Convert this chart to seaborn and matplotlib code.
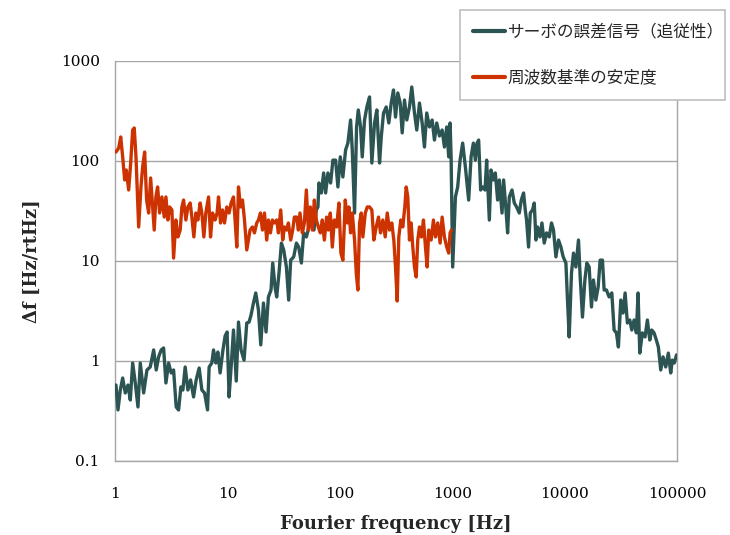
import matplotlib
matplotlib.use("Agg")
import matplotlib.pyplot as plt
import seaborn as sns
import pandas as pd

# ---- data ----
servo_label = "サーボの誤差信号（追従性）"
ref_label = "周波数基準の安定度"

servo_freq = [1.02, 1.063, 1.115, 1.170, 1.234, 1.305, 1.368, 1.436, 1.515, 1.601, 1.678, 1.798, 1.924, 2.058,
              2.207, 2.327, 2.444, 2.577, 2.707, 2.838, 2.999, 3.162, 3.321, 3.503, 3.679, 3.855, 4.017, 4.210,
              4.450, 4.703, 5.000, 5.272, 5.608, 5.925, 6.261, 6.657, 6.879, 7.268, 7.525, 7.889, 8.219, 8.615,
              9.103, 9.541, 9.94, 10.35, 10.79, 11.33, 11.99, 12.55, 13.23, 14.07, 14.87, 15.58, 16.23, 17.05,
              17.87, 18.89, 19.81, 20.93, 22.07, 23.17, 24.44, 25.31, 26.52, 27.46, 28.78, 30.23, 31.69, 33.49,
              35.10, 36.57, 38.89, 41.10, 43.07, 45.52, 47.71, 50.41, 53.17, 55.84, 58.88, 61.84, 63.90, 65.22,
              68.50, 71.80, 74.80, 78.40, 82.85, 86.83, 91.77, 96.20, 101.0, 106.5, 112.6, 118.0, 119.7, 124.7,
              129.1, 135.3, 141.0, 146.0, 153.0, 158.4, 166.0, 174.1, 183.9, 192.8, 203.8, 213.6, 225.8, 233.8,
              244.9, 258.8, 273.0, 286.7, 300.5, 313.1, 328.1, 344.6, 359.0, 376.3, 394.4, 416.8, 436.9, 461.7,
              483.9, 511.4, 540.4, 566.4, 593.6, 627.4, 663.0, 695.0, 728.5, 769.9, 813.6, 852.7, 893.7, 931.1,
              958.0, 977.7, 1010, 1068, 1119, 1175, 1239, 1310, 1401, 1472, 1543, 1607, 1664, 1719,
              1791, 1866, 1960, 2025, 2140, 2216, 2322, 2419, 2536, 2626, 2775, 2867, 3011, 3111,
              3221, 3404, 3568, 3740, 3953, 4118, 4315, 4468, 4588, 4780, 4949, 5186, 5370, 5561,
              5746, 6034, 6286, 6589, 6906, 7300, 7648, 7968, 8369, 8828, 9271, 9716, 10270, 10610,
              10985, 11515, 11997, 12600, 13290, 13760, 14420, 15150, 15780, 16540, 17340, 18060, 18970, 19890,
              20720, 21710, 22480, 23560, 24890, 26310, 27570, 28900, 30110, 31620, 33150, 34540, 36190, 38010,
              39600, 41510, 43510, 45050, 46640, 49180, 51960, 54510, 57240, 59630, 62510, 65520, 68250, 71690,
              75140, 79380, 83730, 87930, 90870, 94650, 99000]
servo_value = [0.575, 0.324, 0.513, 0.676, 0.479, 0.575, 0.407, 0.955, 0.603, 0.347, 0.955, 0.479, 0.813, 0.871,
               1.29, 0.813, 1.10, 1.29, 1.35, 0.603, 0.955, 0.759, 0.813, 0.347, 0.324, 0.550, 0.513, 0.871,
               0.513, 0.646, 0.437, 0.646, 0.851, 0.513, 0.479, 0.324, 0.871, 0.955, 1.29, 0.955, 1.23, 0.759,
               1.26, 1.78, 1.95, 0.437, 0.871, 2.04, 0.631, 2.45, 1.29, 1.02, 2.40, 2.45, 2.88, 3.80,
               4.79, 3.24, 1.45, 3.80, 1.95, 4.37, 5.13, 9.55, 5.50, 4.37, 7.59, 15.1, 12.9, 8.71,
               4.07, 10.2, 11.0, 15.1, 13.8, 9.55, 19.1, 17.4, 21.9, 25.7, 20.4, 32.4, 34.7, 60.3,
               47.9, 75.9, 47.9, 75.9, 60.3, 102, 102, 55.0, 110, 69.2, 129, 151, 174, 257,
               129, 30.2, 219, 324, 219, 110, 257, 347, 437, 95.5, 240, 324, 95.5, 174,
               302, 347, 240, 380, 513, 275, 479, 380, 191, 407, 257, 347, 550, 302,
               204, 380, 240, 138, 302, 219, 257, 162, 240, 178, 204, 138, 219, 110,
               240, 110, 8.71, 43.7, 55.0, 102, 151, 87.1, 40.7, 110, 151, 102, 151, 162,
               51.3, 55.0, 51.3, 102, 25.7, 81.3, 64.6, 75.9, 40.7, 64.6, 30.2, 64.6, 32.4, 19.1,
               43.7, 51.3, 38.0, 34.7, 30.2, 40.7, 47.9, 32.4, 25.7, 13.8, 30.2, 32.4, 38.0, 16.2,
               21.9, 17.4, 24.0, 15.1, 19.1, 17.4, 24.0, 20.4, 11.0, 16.2, 13.8, 11.0, 9.55, 4.07,
               1.74, 7.59, 12.0, 8.71, 16.2, 6.92, 2.75, 6.46, 9.55, 8.71, 3.47, 6.46, 4.07, 5.50,
               10.2, 10.2, 5.13, 5.13, 4.37, 4.79, 2.04, 1.91, 1.38, 4.07, 3.02, 4.79, 2.40, 2.57,
               2.04, 2.57, 1.91, 4.79, 1.20, 1.91, 1.74, 2.57, 1.62, 2.04, 1.91, 1.62, 1.38, 0.813,
               1.10, 0.871, 1.20, 0.759, 1.02, 0.955, 1.15]

ref_freq = [1.02, 1.079, 1.124, 1.170, 1.219, 1.260, 1.323, 1.379, 1.436, 1.483, 1.537, 1.624, 1.702, 1.762,
            1.835, 1.912, 1.992, 2.075, 2.162, 2.234, 2.312, 2.394, 2.495, 2.615, 2.741, 2.838, 2.956, 3.061,
            3.208, 3.321, 3.481, 3.626, 3.801, 3.936, 4.075, 4.271, 4.450, 4.665, 4.830, 5.030, 5.240, 5.459,
            5.722, 5.925, 6.172, 6.430, 6.797, 7.077, 7.373, 7.776, 8.099, 8.336, 8.685, 9.048, 9.426, 9.879,
            10.35, 10.79, 11.33, 11.70, 12.12, 12.55, 13.07, 13.62, 14.19, 14.87, 15.39, 15.91, 16.71, 17.40,
            18.24, 18.89, 19.68, 20.50, 21.36, 22.38, 23.17, 24.14, 25.15, 26.20, 27.46, 28.43, 29.81, 31.05,
            32.15, 33.69, 34.88, 36.57, 38.10, 39.45, 41.34, 42.80, 44.23, 46.45, 48.39, 50.41, 52.52, 54.70,
            57.00, 59.37, 61.84, 64.42, 67.11, 69.91, 72.84, 76.35, 79.06, 82.35, 85.79, 89.37, 93.67, 98.17,
            102.3, 106.5, 111.9, 116.6, 120.4, 124.7, 129.1, 135.3, 140.1, 144.8, 149.9, 155.2, 160.4, 168.5,
            175.5, 183.9, 192.8, 200.8, 211.0, 221.1, 230.4, 241.4, 253.6, 264.2, 276.9, 290.2, 302.4, 313.1,
            324.2, 334.9, 348.9, 363.5, 378.7, 389.7, 402.6, 416.8, 431.5, 446.0, 461.7, 478.1, 493.9, 511.4,
            532.7, 554.9, 578.1, 598.5, 618.4, 649.4, 680.8, 709.3, 743.4, 780.8, 813.6, 852.7, 893.7, 931.1,
            958.0, 983.8]
ref_value = [123, 135, 174, 110, 64.6, 81.3, 51.3, 95.5, 204, 214, 110, 21.9, 55.0, 87.1,
             123, 40.7, 30.2, 67.6, 34.7, 20.4, 43.7, 55.0, 30.2, 43.7, 27.5, 43.7, 25.7, 34.7,
             32.4, 10.7, 25.7, 17.4, 20.4, 34.7, 40.7, 25.7, 34.7, 38.0, 27.5, 17.4, 30.2, 25.7,
             38.0, 30.2, 17.4, 30.2, 43.7, 17.4, 30.2, 25.7, 30.2, 43.7, 24.0, 32.4, 24.0, 34.7,
             30.2, 38.0, 43.7, 25.7, 13.8, 55.0, 34.7, 40.7, 25.7, 12.9, 16.2, 20.4, 21.9, 19.1,
             24.0, 25.7, 30.2, 20.4, 30.2, 16.2, 25.7, 19.1, 25.7, 24.0, 25.7, 19.1, 32.4, 16.2,
             21.9, 20.4, 24.0, 16.2, 20.4, 27.5, 27.5, 20.4, 30.2, 19.1, 24.0, 51.3, 20.4, 34.7,
             20.4, 40.7, 25.7, 21.9, 19.1, 25.7, 16.2, 27.5, 20.4, 30.2, 13.8, 25.7, 21.9, 38.0,
             12.0, 10.2, 40.7, 24.0, 34.7, 19.1, 30.2, 16.2, 7.59, 5.13, 24.0, 30.2, 17.4, 30.2,
             34.7, 34.7, 32.4, 16.2, 21.9, 27.5, 19.1, 25.7, 17.4, 30.2, 20.4, 24.0, 16.2, 8.71,
             3.98, 17.4, 25.7, 21.9, 34.7, 55.0, 43.7, 16.2, 24.0, 13.8, 8.71, 6.92, 16.2, 21.9,
             17.4, 25.7, 13.8, 8.71, 20.4, 16.2, 25.7, 17.4, 24.0, 15.1, 27.5, 17.4, 13.8, 12.0,
             19.1, 20.4]

x_ticks = [1, 10, 100, 1000, 10000, 100000]
x_tick_labels = ["1", "10", "100", "1000", "10000", "100000"]
y_ticks = [0.1, 1, 10, 100, 1000]
y_tick_labels = ["0.1", "1", "10", "100", "1000"]
x_label = "Fourier frequency [Hz]"
y_label = "Δf [Hz/rtHz]"

servo_color = "#2B5452"
ref_color = "#CC3300"
grid_color = "#A6A6A6"

# ---- build frames ----
df_servo = pd.DataFrame({"freq": servo_freq, "value": servo_value})
df_ref = pd.DataFrame({"freq": ref_freq, "value": ref_value})

sns.set_theme(style="white")
plt.rcParams["font.family"] = ["DejaVu Serif", "Noto Sans CJK JP"]

fig = plt.figure(figsize=(7.3, 5.35), dpi=100)
ax = fig.add_axes([115 / 730, 1 - 461 / 535, (677 - 115) / 730, (461 - 61) / 535])

sns.lineplot(data=df_servo, x="freq", y="value", ax=ax, color=servo_color, linewidth=2.4,
             sort=False, estimator=None, label=servo_label, zorder=3)
sns.lineplot(data=df_ref, x="freq", y="value", ax=ax, color=ref_color, linewidth=2.4,
             sort=False, estimator=None, label=ref_label, zorder=4)

ax.set_xscale("log")
ax.set_yscale("log")
ax.set_xlim(1, 100000)
ax.set_ylim(0.1, 1000)
ax.set_xticks(x_ticks)
ax.set_xticklabels(x_tick_labels)
ax.set_yticks(y_ticks)
ax.set_yticklabels(y_tick_labels)
ax.minorticks_off()

ax.yaxis.grid(True, color=grid_color, linewidth=1.0)
ax.xaxis.grid(False)
ax.set_axisbelow(True)

for side in ["left", "bottom", "right"]:
    ax.spines[side].set_visible(True)
    ax.spines[side].set_color(grid_color)
    ax.spines[side].set_linewidth(1.0)
ax.spines["top"].set_visible(False)

ax.tick_params(axis="both", which="major", direction="out", length=5, width=1.0,
               color=grid_color, labelsize=11, labelcolor="black", pad=6)
ax.tick_params(axis="x", pad=14)
for lab in ax.get_xticklabels() + ax.get_yticklabels():
    lab.set_family("DejaVu Serif")

ax.set_xlabel(x_label, fontsize=13, fontweight="bold", family="DejaVu Serif", labelpad=10)
ax.set_ylabel(y_label, fontsize=13, fontweight="bold", family="DejaVu Serif", labelpad=14)

ax.get_legend().remove()
handles, labels = ax.get_legend_handles_labels()
leg = fig.legend(handles, labels, loc="upper left",
                 bbox_to_anchor=(460 / 730, 1 - 103 / 535, 265 / 730, 93 / 535), mode="expand",
                 frameon=True, fancybox=False, framealpha=1, edgecolor="#BFBFBF",
                 prop={"family": ["Noto Sans CJK JP"], "size": 12},
                 handlelength=1.9, handletextpad=0.15, labelspacing=1.75,
                 borderpad=0.8, borderaxespad=0)
leg.get_frame().set_linewidth(1.2)
for line in leg.get_lines():
    line.set_linewidth(3)

fig.savefig("out.png", dpi=100)
